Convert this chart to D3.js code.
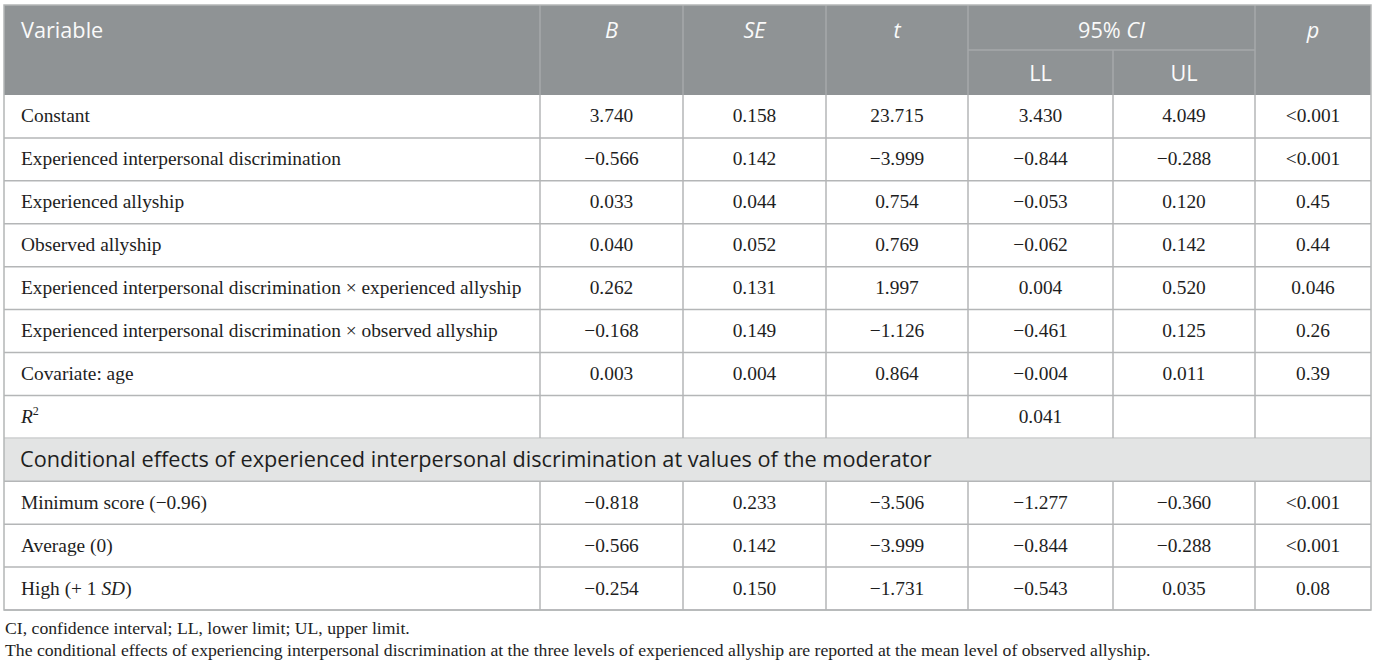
<!DOCTYPE html>
<html>
<head>
<meta charset="utf-8">
<script src="https://cdn.jsdelivr.net/npm/d3@7"></script>
<style>
  body { margin: 0; background: #fff; }
  svg { display: block; }
</style>
</head>
<body>
<svg id="table"></svg>
<script>
// table content
const labels = [
  'Constant',
  'Experienced interpersonal discrimination',
  'Experienced allyship',
  'Observed allyship',
  'Experienced interpersonal discrimination × experienced allyship',
  'Experienced interpersonal discrimination × observed allyship',
  'Covariate: age',
  'R2'
];
const colB  = ['3.740', '−0.566', '0.033', '0.040', '0.262', '−0.168', '0.003', ''];
const colSE = ['0.158', '0.142', '0.044', '0.052', '0.131', '0.149', '0.004', ''];
const colT  = ['23.715', '−3.999', '0.754', '0.769', '1.997', '−1.126', '0.864', ''];
const colLL = ['3.430', '−0.844', '−0.053', '−0.062', '0.004', '−0.461', '−0.004', '0.041'];
const colUL = ['4.049', '−0.288', '0.120', '0.142', '0.520', '0.125', '0.011', ''];
const colP  = ['<0.001', '<0.001', '0.45', '0.44', '0.046', '0.26', '0.39', ''];

const sectionTitle = 'Conditional effects of experienced interpersonal discrimination at values of the moderator';
const condLabels = ['Minimum score (−0.96)', 'Average (0)', 'High (+ 1 SD)'];
const condB  = ['−0.818', '−0.566', '−0.254'];
const condSE = ['0.233', '0.142', '0.150'];
const condT  = ['−3.506', '−3.999', '−1.731'];
const condLL = ['−1.277', '−0.844', '−0.543'];
const condUL = ['−0.360', '−0.288', '0.035'];
const condP  = ['<0.001', '<0.001', '0.08'];

const notes = [
  'CI, confidence interval; LL, lower limit; UL, upper limit.',
  'The conditional effects of experiencing interpersonal discrimination at the three levels of experienced allyship are reported at the mean level of observed allyship.'
];

const W = 1375, H = 665;
const svg = d3.select('#table').attr('width', W).attr('height', H);

const serif = '"Liberation Serif", "DejaVu Serif", serif';
const sans = '"Open Sans", "Noto Sans", sans-serif';
const lineColor = '#b4b6b7';
const headFill = '#8f9395';
const bodySize = '19.4px';
const sansSize = '21.7px';

// column edges
const edges = [4, 540, 683, 826, 968, 1113, 1255, 1371];
const colMid = i => (edges[i] + edges[i + 1]) / 2;

// build all body rows
const rows = labels.map((l, i) => ({ type: 'data', label: l, cells: [colB[i], colSE[i], colT[i], colLL[i], colUL[i], colP[i]] }));
rows.push({ type: 'section', label: sectionTitle });
condLabels.forEach((l, i) => rows.push({ type: 'data', label: l, cells: [condB[i], condSE[i], condT[i], condLL[i], condUL[i], condP[i]] }));

const headTop = 5, headBottom = 95, tableBottom = 610;
const y = d3.scaleBand().domain(d3.range(rows.length)).range([headBottom, tableBottom]);

// header
const head = svg.append('g');
head.append('rect').attr('x', edges[0]).attr('y', headTop)
  .attr('width', edges[7] - edges[0]).attr('height', headBottom - headTop).attr('fill', headFill);
const headMid = (headTop + headBottom) / 2;
edges.slice(1, -1).forEach((x, i) => {
  // the LL/UL divider only covers the lower header row
  const y0 = (i === 4) ? headMid : headTop;
  head.append('line').attr('x1', x).attr('x2', x).attr('y1', y0).attr('y2', headBottom)
    .attr('stroke', '#a6a9ab').attr('stroke-width', 1.5);
});
head.append('line').attr('x1', edges[4]).attr('x2', edges[6]).attr('y1', headMid).attr('y2', headMid)
  .attr('stroke', '#a6a9ab').attr('stroke-width', 1.5);

const headText = (x, yy, anchor) => head.append('text').attr('x', x).attr('y', yy)
  .attr('text-anchor', anchor).attr('fill', '#fafafa')
  .style('font-family', sans).style('font-size', sansSize);
headText(21, 38, 'start').text('Variable');
[['B', 1], ['SE', 2], ['t', 3], ['p', 6]].forEach(([t, c]) => {
  headText(colMid(c), 38, 'middle').style('font-style', 'italic').text(t);
});
const ci = headText((edges[4] + edges[6]) / 2, 38, 'middle');
ci.append('tspan').text('95% ');
ci.append('tspan').style('font-style', 'italic').text('CI');
headText(colMid(4), 81, 'middle').text('LL');
headText(colMid(5), 81, 'middle').text('UL');

// body
const body = svg.append('g');
const rowG = body.selectAll('g.row').data(rows).join('g').attr('class', 'row')
  .attr('transform', (d, i) => `translate(0,${y(i)})`);

rowG.filter(d => d.type === 'section').append('rect')
  .attr('x', edges[0]).attr('width', edges[7] - edges[0]).attr('height', y.bandwidth())
  .attr('fill', '#e3e4e4');

rowG.append('line').attr('x1', edges[0]).attr('x2', edges[7])
  .attr('y1', y.bandwidth()).attr('y2', y.bandwidth())
  .attr('stroke', lineColor).attr('stroke-width', 1.5);

const dataRows = rowG.filter(d => d.type === 'data');
const baseline = y.bandwidth() / 2 + 6;

dataRows.each(function(d) {
  const g = d3.select(this);
  edges.slice(1, -1).forEach(x => {
    g.append('line').attr('x1', x).attr('x2', x).attr('y1', 0).attr('y2', y.bandwidth())
      .attr('stroke', lineColor).attr('stroke-width', 1.5);
  });
  const lab = g.append('text').attr('x', 21).attr('y', baseline)
    .attr('fill', '#1e1e1e').style('font-family', serif).style('font-size', bodySize);
  if (d.label === 'R2') {
    lab.append('tspan').style('font-style', 'italic').text('R');
    lab.append('tspan').attr('dy', -8).style('font-size', '12px').text('2');
  } else if (d.label.includes('SD')) {
    const parts = d.label.split('SD');
    lab.append('tspan').text(parts[0]);
    lab.append('tspan').style('font-style', 'italic').text('SD');
    lab.append('tspan').text(parts[1]);
  } else {
    lab.text(d.label);
  }
  g.selectAll('text.val').data(d.cells).join('text').attr('class', 'val')
    .attr('x', (v, i) => colMid(i + 1)).attr('y', baseline)
    .attr('text-anchor', 'middle').attr('fill', '#1e1e1e')
    .style('font-family', serif).style('font-size', bodySize)
    .text(v => v);
});

rowG.filter(d => d.type === 'section').append('text')
  .attr('x', 20).attr('y', baseline + 1.5).attr('fill', '#1e1e1e')
  .style('font-family', sans).style('font-size', sansSize)
  .text(d => d.label);

// outer border
svg.append('rect').attr('x', edges[0]).attr('y', headTop)
  .attr('width', edges[7] - edges[0]).attr('height', tableBottom - headTop)
  .attr('fill', 'none').attr('stroke', lineColor).attr('stroke-width', 1.5);

// notes
svg.selectAll('text.note').data(notes).join('text').attr('class', 'note')
  .attr('x', 5).attr('y', (d, i) => 634 + i * 22)
  .attr('fill', '#1e1e1e').style('font-family', serif).style('font-size', '17.7px')
  .text(d => d);
</script>
</body>
</html>
